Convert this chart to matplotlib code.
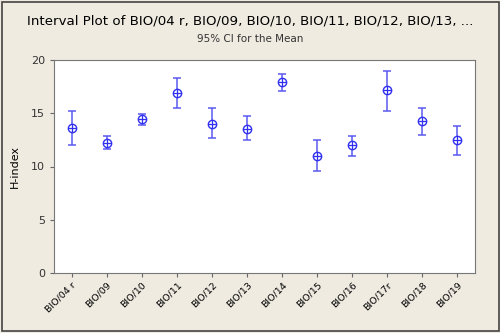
import matplotlib
matplotlib.use("Agg")
import matplotlib.pyplot as plt
import numpy as np

# group names
labels = ["BIO/04 r", "BIO/09", "BIO/10", "BIO/11", "BIO/12", "BIO/13",
          "BIO/14", "BIO/15", "BIO/16", "BIO/17r", "BIO/18", "BIO/19"]
# mean H-index and 95% CI bounds
means = [13.6, 12.2, 14.45, 16.9, 14.0, 13.55, 17.9, 11.0, 12.0, 17.15, 14.3, 12.5]
upper = [15.2, 12.9, 14.9, 18.3, 15.5, 14.7, 18.65, 12.5, 12.9, 19.0, 15.5, 13.8]
lower = [12.05, 11.6, 13.9, 15.5, 12.65, 12.5, 17.1, 9.55, 11.0, 15.2, 12.95, 11.1]

bg = "#EFEBE1"
fig = plt.figure(figsize=(5, 3.33), dpi=100, facecolor=bg)
ax = fig.add_axes([0.108, 0.18, 0.842, 0.64])

x = np.arange(len(labels))
m = np.array(means)
err = [m - np.array(lower), np.array(upper) - m]
ax.errorbar(x, m, yerr=err, fmt="none", ecolor="#5A5AF0", elinewidth=1.1,
            capsize=3, capthick=1.1)
ax.plot(x, m, "o", ms=6, mfc="white", mec="#3030F0", mew=1)
ax.plot(x, m, "+", ms=6, mec="#3030F0", mew=0.9)

ax.set_xlim(-0.5, len(labels) - 0.5)
ax.set_ylim(0, 20)
ax.set_yticks([0, 5, 10, 15, 20])
ax.set_xticks(x)
ax.set_xticklabels(labels, rotation=45, ha="right", rotation_mode="anchor", fontsize=6.8)
ax.tick_params(axis="y", labelsize=8, labelcolor="#333333", length=3, color="#666666")
ax.tick_params(axis="x", length=3, color="#666666", pad=2)
for s in ax.spines.values():
    s.set_color("#777777")
ax.set_ylabel("H-index", fontsize=8, labelpad=8)

fig.text(0.5, 0.925, "Interval Plot of BIO/04 r, BIO/09, BIO/10, BIO/11, BIO/12, BIO/13, ...",
         ha="center", fontsize=9.6)
fig.text(0.5, 0.873, "95% CI for the Mean", ha="center", fontsize=7.5, color="#333333")

# outer frame
fig.add_artist(plt.Rectangle((0.003, 0.005), 0.994, 0.99, transform=fig.transFigure,
                             fill=False, ec="#444444", lw=1.2))

fig.savefig("out.png", dpi=100, facecolor=bg)
